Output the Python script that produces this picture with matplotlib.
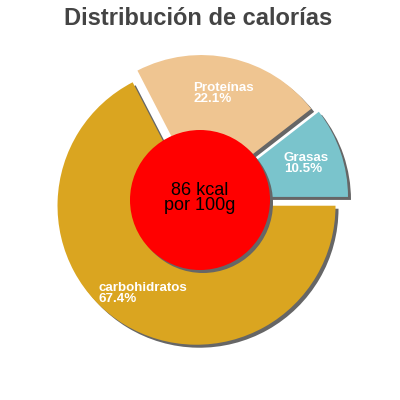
import matplotlib
matplotlib.use("Agg")
import matplotlib.pyplot as plt
from matplotlib.patches import Circle

plt.rcParams['font.family'] = ['Liberation Sans', 'DejaVu Sans']

# Data
categories = ["Grasas", "Proteínas", "carbohidratos"]
percentages = [10.5, 22.1, 67.4]
colors = ["#7ac4cc", "#efc591", "#daa520"]
title = "Distribución de calorías"
center_text = "86 kcal\npor 100g"

# Layout (pixel-like data units, y up)
CX, CY = 200, 200
R = 139
explode = [9.5, 6.1, 6.7]
SH = 3  # shadow offset
shadow_color = "#666666"

fig = plt.figure(figsize=(4, 4), dpi=100)
ax = fig.add_axes([0, 0, 1, 1])

# Shadow pie
ax.pie(percentages, radius=R, center=(CX + SH, CY - SH), startangle=0,
       counterclock=True, explode=explode, colors=[shadow_color] * 3,
       wedgeprops=dict(linewidth=0))

labels = [f"{c}\n{p:.1f}%" for c, p in zip(categories, percentages)]
wedges, texts = ax.pie(percentages, radius=R, center=(CX, CY), startangle=0,
                       counterclock=True, explode=explode, colors=colors,
                       labels=labels, labeldistance=0.74,
                       wedgeprops=dict(linewidth=0),
                       textprops=dict(color="white", fontsize=9.6,
                                      fontweight="bold", linespacing=0.92))
for t in texts:
    t.set_ha("center")
    t.set_va("center")
    t.set_multialignment("left")

# Center circle with shadow
ax.add_patch(Circle((CX + SH, CY - SH), 70, color=shadow_color, lw=0, zorder=3))
ax.add_patch(Circle((CX, CY), 70, color="#ff0000", lw=0, zorder=4))
ax.text(CX, CY + 2, center_text, ha="center", va="center", fontsize=13,
        color="black", linespacing=0.9, zorder=5)

ax.set_xlim(0, 400)
ax.set_ylim(0, 400)
ax.set_aspect("equal")
ax.axis("off")

fig.text(0.495, 1 - 25 / 400, title, ha="center", va="baseline",
         fontsize=17, fontweight="bold", color="#444444")

fig.savefig("out.png", dpi=100)
